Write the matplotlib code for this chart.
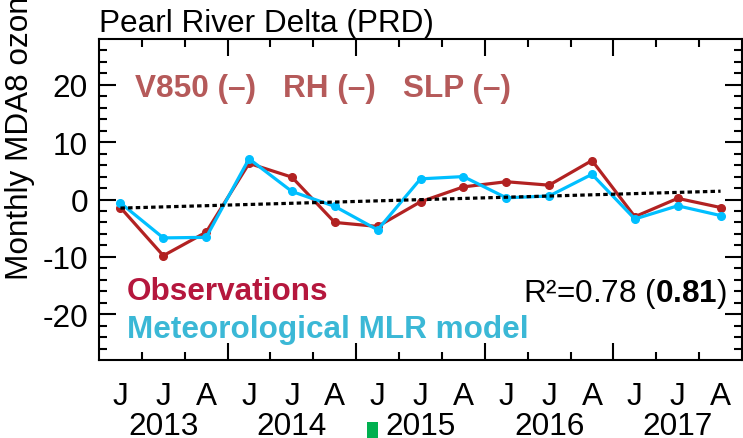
import matplotlib
matplotlib.use("Agg")
import matplotlib.pyplot as plt
from matplotlib.patches import Rectangle
import numpy as np

plt.rcParams["font.family"] = ["Liberation Sans", "DejaVu Sans"]
plt.rcParams["mathtext.fontset"] = "custom"
plt.rcParams["mathtext.rm"] = "Liberation Sans"
plt.rcParams["mathtext.bf"] = "Liberation Sans:bold"

# summer months 2013-2017
months = ["J", "J", "A"] * 5
years = ["2013", "2014", "2015", "2016", "2017"]
observed = [-1.4, -9.8, -5.7, 6.3, 3.9, -4.0, -4.7, -0.4, 2.2, 3.1, 2.5, 6.8, -3.0, 0.2, -1.4]
mlr_model = [-0.6, -6.7, -6.6, 7.1, 1.4, -1.2, -5.3, 3.6, 4.0, 0.3, 0.6, 4.4, -3.4, -1.1, -2.8]
trend = [-1.5, 1.45]
drivers = ["V850 (–)", "RH (–)", "SLP (–)"]

obs_color = "#b22222"
mlr_color = "#00bfff"
fs = 22.7

fig = plt.figure(figsize=(7.43, 4.39), dpi=100)
ax = fig.add_axes([99 / 743, 1 - 361 / 439, 643 / 743, 321 / 439])

x = np.arange(len(months))
ax.plot(x, observed, color=obs_color, lw=2.3, marker="o", ms=5.5, zorder=3)
ax.plot(x, mlr_model, color=mlr_color, lw=2.3, marker="o", ms=5.5, zorder=4)
ax.plot([x[0], x[-1]], trend, color="black", lw=2.3, ls=(0, (1.4, 1.0)), zorder=5)

ax.set_xlim(-0.5, len(months) - 0.5)
ax.set_ylim(-28, 28)

# year boundaries as long ticks, month gaps as short ticks
bounds = np.arange(0.5, len(months) - 0.5, 1.0)
ax.set_xticks(bounds[2::3])
ax.set_xticks([b for i, b in enumerate(bounds) if i % 3 != 2], minor=True)
ax.set_xticklabels([])
ax.set_yticks([-20, -10, 0, 10, 20])
ax.set_yticklabels(["-20", "-10", "0", "10", "20"])
ax.set_yticks(np.arange(-26, 28, 2), minor=True)
ax.tick_params(which="both", direction="in", top=True, right=True, width=1.5, labelsize=fs)
ax.tick_params(which="major", length=12, pad=8)
ax.tick_params(which="minor", length=6)
for s in ax.spines.values():
    s.set_linewidth(1.5)

mon_ax = ax.secondary_xaxis("bottom")
mon_ax.set_xticks(x, months)
mon_ax.tick_params(length=0, pad=15, labelsize=fs)
mon_ax.spines["bottom"].set_visible(False)

yr_ax = ax.secondary_xaxis("bottom")
yr_ax.set_xticks(x[1::3], years)
yr_ax.tick_params(length=0, pad=37, labelsize=fs)
yr_ax.spines["bottom"].set_visible(False)

for xf, name in zip([0.056, 0.286, 0.473], drivers):
    ax.text(xf, 0.822, name, transform=ax.transAxes, fontsize=fs, fontweight="bold",
            color="#b55a5a", va="baseline")

ax.text(0.0435, 0.19, "Observations", transform=ax.transAxes, fontsize=fs,
        fontweight="bold", color="#b5173d", va="baseline")
ax.text(0.0435, 0.072, "Meteorological MLR model", transform=ax.transAxes, fontsize=fs,
        fontweight="bold", color="#3bb8d6", va="baseline")
ax.text(0.977, 0.184, r"R²=0.78 ($\mathbf{0.81}$)", transform=ax.transAxes, fontsize=fs,
        ha="right", va="baseline")

ax.set_title("Pearl River Delta (PRD)", loc="left", fontsize=fs, pad=6)

fig.text(20 / 743, 1 - 280 / 439, "Monthly MDA8 ozone", rotation=90, fontsize=fs,
         ha="center", va="bottom")

fig.add_artist(Rectangle((367 / 743, 0), 11 / 743, 16 / 439, transform=fig.transFigure,
                         color="#00b050", lw=0))

fig.savefig("out.png", dpi=100, facecolor="white")
